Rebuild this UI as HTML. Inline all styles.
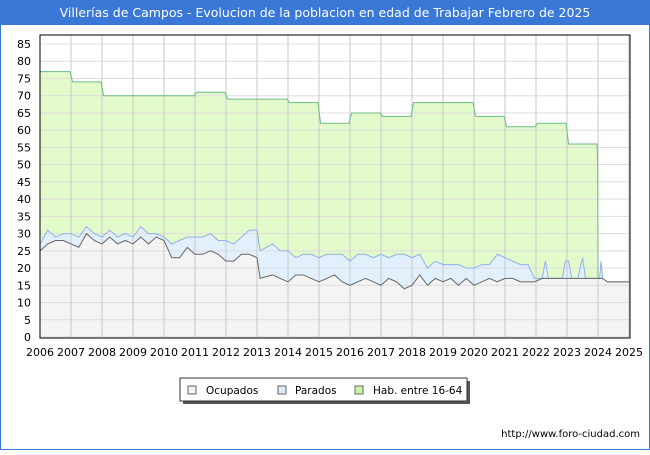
<!DOCTYPE html>
<html><head><meta charset="utf-8"><style>
body{margin:0;width:650px;height:450px;overflow:hidden;font-family:"Liberation Sans","DejaVu Sans",sans-serif;}
</style></head><body>
<svg width="650" height="450" xmlns="http://www.w3.org/2000/svg" id="svg">
<rect x="0" y="0" width="650" height="450" fill="#fff" stroke="#3a78d8" stroke-width="2"/>
<rect x="0" y="0" width="650" height="25" fill="#3a78d8"/>
<text x="325" y="17" text-anchor="middle" fill="#fff" font-size="12.5" font-family="DejaVu Sans, sans-serif">Villerías de Campos - Evolucion de la poblacion en edad de Trabajar Febrero de 2025</text>
<g id="plot"></g>
<g>
<rect x="183" y="381" width="287" height="23" fill="#555"/>
<rect x="180" y="378" width="287" height="23" fill="#fff" stroke="#333"/>
<rect x="188" y="386" width="8" height="8" fill="#f0f0f0" stroke="#666"/>
<text x="206" y="394" font-size="10.5" font-family="DejaVu Sans, sans-serif">Ocupados</text>
<rect x="278" y="386" width="8" height="8" fill="#dce9fb" stroke="#666"/>
<text x="295" y="394" font-size="10.5" font-family="DejaVu Sans, sans-serif">Parados</text>
<rect x="355" y="386" width="8" height="8" fill="#ccf5a8" stroke="#666"/>
<text x="373" y="394" font-size="10.5" font-family="DejaVu Sans, sans-serif">Hab. entre 16-64</text>
</g>
<text x="640" y="437" text-anchor="end" font-size="10" font-family="DejaVu Sans, sans-serif">http://www.foro-ciudad.com</text>
</svg>
<script>
const yearLabels=[2006,2007,2008,2009,2010,2011,2012,2013,2014,2015,2016,2017,2018,2019,2020,2021,2022,2023,2024,2025];
const yTicks=[0,5,10,15,20,25,30,35,40,45,50,55,60,65,70,75,80,85];
const habYears=[2006,2007,2008,2009,2010,2011,2012,2013,2014,2015,2016,2017,2018,2019,2020,2021,2022,2023];
const habVals=[77,74,70,70,70,71,69,69,68,62,65,64,68,68,64,61,62,56];
const dates=[2006,2006.25,2006.5,2006.75,2007,2007.25,2007.5,2007.75,2008,2008.25,2008.5,2008.75,2009,2009.25,2009.5,2009.75,2010,2010.25,2010.5,2010.75,2011,2011.25,2011.5,2011.75,2012,2012.25,2012.5,2012.75,2013,2013.1,2013.5,2013.75,2014,2014.25,2014.5,2014.75,2015,2015.25,2015.5,2015.75,2016,2016.25,2016.5,2016.75,2017,2017.25,2017.5,2017.75,2018,2018.25,2018.5,2018.75,2019,2019.25,2019.5,2019.75,2020,2020.25,2020.5,2020.75,2021,2021.25,2021.5,2021.75,2021.95,2022.2,2022.3,2022.4,2022.85,2022.95,2023.05,2023.15,2023.35,2023.5,2023.6,2024.05,2024.1,2024.15,2024.3,2025];
const ocupados=[25,27,28,28,27,26,30,28,27,29,27,28,27,29,27,29,28,23,23,26,24,24,25,24,22,22,24,24,23,17,18,17,16,18,18,17,16,17,18,16,15,16,17,16,15,17,16,14,15,18,15,17,16,17,15,17,15,16,17,16,17,17,16,16,16,17,17,17,17,17,17,17,17,17,17,17,17,17,16,16];
const totalOP=[27,31,29,30,30,29,32,30,29,31,29,30,29,32,30,30,29,27,28,29,29,29,30,28,28,27,29,31,31,25,27,25,25,23,24,24,23,24,24,24,22,24,24,23,24,23,24,24,23,24,20,22,21,21,21,20,20,21,21,24,23,22,21,21,17,17,22,17,17,22,22,17,17,23,17,17,22,17,16,16];
const parados=totalOP.map((t,i)=>t-ocupados[i]);
const X0=40,X1=629,YB=337,YT=44;
const sx=v=>X0+(v-2006)*(X1-X0)/19;
const sy=v=>YB-v*(YB-YT)/85;
const NS="http://www.w3.org/2000/svg";
const g=document.getElementById('plot');
function mk(tag,attrs,parent){const e=document.createElementNS(NS,tag);for(const k in attrs)e.setAttribute(k,attrs[k]);(parent||g).appendChild(e);return e;}
let bg=mk('rect',{x:X0,y:35,width:X1-X0+1,height:YB-35,fill:'#fff'});


let hp=[];
habYears.forEach((y,i)=>{hp.push([sx(y+(i?0.05:0)),sy(habVals[i])]);hp.push([sx(y+0.97),sy(habVals[i])]);});
hp.push([sx(2023.99),sy(50)]);hp.push([sx(2024.0),sy(17)]);
let habPts=hp.map(p=>p.join(',')).join(' ');
let hab=mk('polygon',{points:habPts+` ${sx(2024)},${YB} ${X0},${YB}`,fill:'#e3fbcb'});


let tp=dates.map((d,i)=>sx(d)+','+sy(ocupados[i]+parados[i])).join(' ');
let par=mk('polygon',{points:tp+` ${sx(2025)},${YB} ${X0},${YB}`,fill:'#e2f0fd'});


let op=dates.map((d,i)=>sx(d)+','+sy(ocupados[i])).join(' ');
let oc=mk('polygon',{points:op+` ${sx(2025)},${YB} ${X0},${YB}`,fill:'#f4f4f4'});


yTicks.forEach(v=>{
 let l=mk('line',{x1:X0,x2:X1,y1:sy(v),y2:sy(v),stroke:'#ddd','stroke-width':1});
 
 
 let t=mk('text',{x:31,y:sy(v)+4,'text-anchor':'end','font-size':11,'font-family':'DejaVu Sans, sans-serif'});
 t.textContent=v;
 
 
});
yearLabels.forEach(v=>{
 let l=mk('line',{x1:sx(v),x2:sx(v),y1:35,y2:YB,stroke:'#c8c8c8','stroke-width':1});
 
 
 let t=mk('text',{x:sx(v),y:356,'text-anchor':'middle','font-size':11,'font-family':'DejaVu Sans, sans-serif'});
 t.textContent=v;
 
 
});
let hl=mk('polyline',{points:habPts,fill:'none',stroke:'#6dbb88','stroke-width':1});


let pl=mk('polyline',{points:tp,fill:'none',stroke:'#8fb0ee','stroke-width':1});


let ol=mk('polyline',{points:op,fill:'none',stroke:'#666','stroke-width':1});


let fr=mk('rect',{x:X0,y:35,width:X1-X0+1,height:YB-35+1,fill:'none',stroke:'#000','stroke-width':1});


</script>
</body></html>
